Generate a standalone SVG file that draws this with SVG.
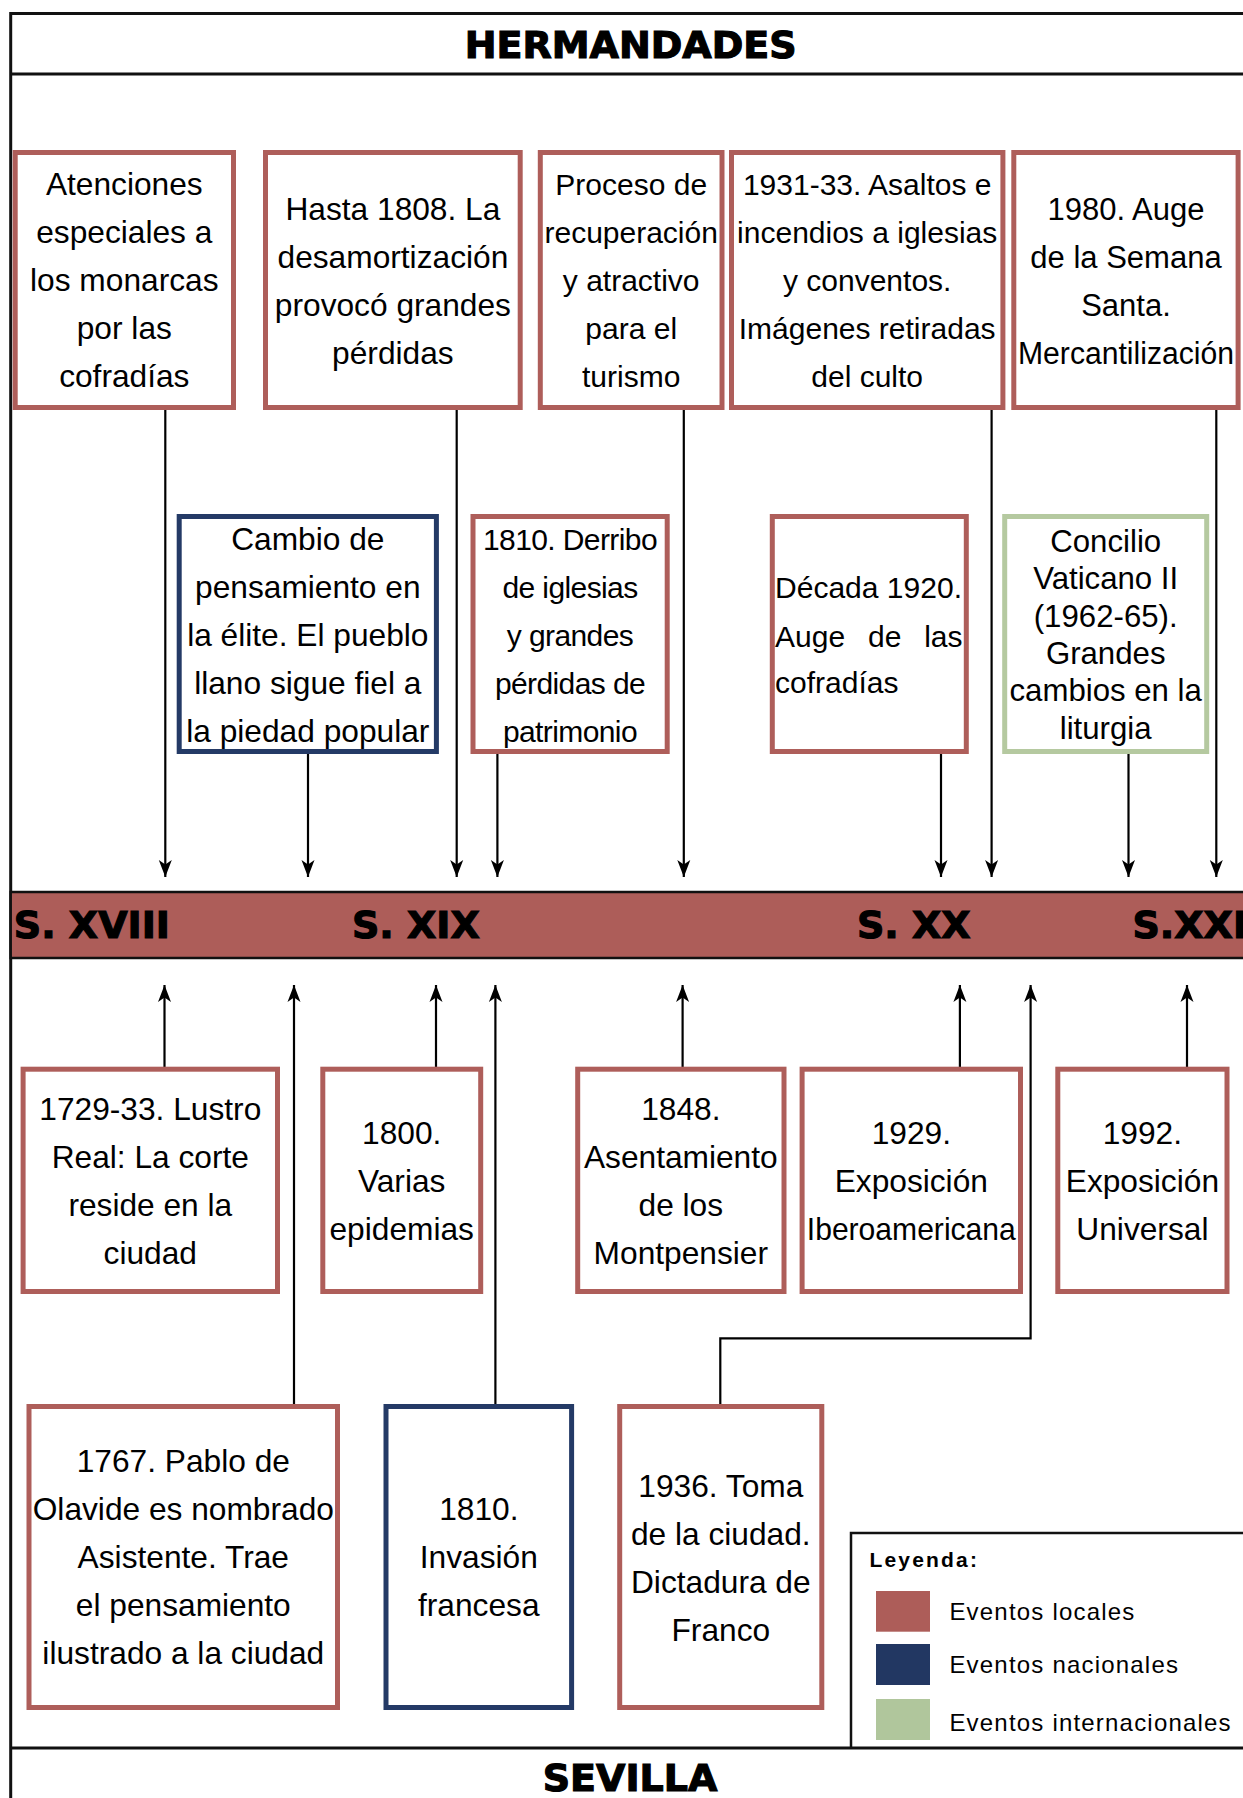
<svg xmlns="http://www.w3.org/2000/svg" width="1243" height="1798" viewBox="0 0 1243 1798">
<style>
.bg{fill:#fff}
.frame{fill:none;stroke:#111;stroke-width:3}
.loc{fill:#fff;stroke:#ae5e5a;stroke-width:5}
.nac{fill:#fff;stroke:#243a66;stroke-width:5}
.int{fill:#fff;stroke:#b5c9a0;stroke-width:5}
.t{font-family:"Liberation Sans",Arial,sans-serif;font-size:31.7px;text-anchor:middle;fill:#000}
.t30{font-size:30px}
.hd{font-family:"DejaVu Sans",Verdana,sans-serif;font-weight:bold;font-size:38px;fill:#000;stroke:#000;stroke-width:1.2px}
.c{fill:none;stroke:#000;stroke-width:2.2}
.lg{font-family:"Liberation Sans",Arial,sans-serif;font-size:24px;letter-spacing:1.2px;fill:#000}
</style>
<defs>
<marker id="arr" viewBox="-18 -8 20 16" refX="0" refY="0" markerWidth="20" markerHeight="16" orient="auto" markerUnits="userSpaceOnUse">
<path d="M0,0 L-17,-6.5 L-12.5,0 L-17,6.5 Z" fill="#000"/>
</marker>
</defs>
<rect class="bg" x="0" y="0" width="1243" height="1798"/>

<g id="frame">
<path class="frame" d="M1250,13.5 H10.7 V1800"/>
<line class="frame" x1="10.7" y1="74" x2="1250" y2="74"/>
<line class="frame" x1="10.7" y1="1748" x2="1250" y2="1748"/>
<text class="hd" x="630.7" y="58" text-anchor="middle">HERMANDADES</text>
<text class="hd" x="630" y="1791" text-anchor="middle">SEVILLA</text>
</g>

<g id="timeline">
<rect x="10.7" y="892" width="1245" height="66" fill="#ad5d59" stroke="#111" stroke-width="2.5"/>
<text class="hd" x="13.8" y="938">S. XVIII</text>
<text class="hd" x="352" y="938">S. XIX</text>
<text class="hd" x="857" y="938">S. XX</text>
<text class="hd" x="1132.5" y="938">S.XXI</text>
</g>

<g id="connectors">
<line class="c" x1="165.3" y1="410" x2="165.3" y2="877" marker-end="url(#arr)"/>
<line class="c" x1="308" y1="754" x2="308" y2="877" marker-end="url(#arr)"/>
<line class="c" x1="456.7" y1="410" x2="456.7" y2="877" marker-end="url(#arr)"/>
<line class="c" x1="497.4" y1="754" x2="497.4" y2="877" marker-end="url(#arr)"/>
<line class="c" x1="683.8" y1="410" x2="683.8" y2="877" marker-end="url(#arr)"/>
<line class="c" x1="941" y1="754" x2="941" y2="877" marker-end="url(#arr)"/>
<line class="c" x1="991.6" y1="410" x2="991.6" y2="877" marker-end="url(#arr)"/>
<line class="c" x1="1128.5" y1="754" x2="1128.5" y2="877" marker-end="url(#arr)"/>
<line class="c" x1="1216.3" y1="410" x2="1216.3" y2="877" marker-end="url(#arr)"/>

<line class="c" x1="164.5" y1="1067" x2="164.5" y2="985" marker-end="url(#arr)"/>
<line class="c" x1="294" y1="1404" x2="294" y2="985" marker-end="url(#arr)"/>
<line class="c" x1="436" y1="1067" x2="436" y2="985" marker-end="url(#arr)"/>
<line class="c" x1="495.4" y1="1404" x2="495.4" y2="985" marker-end="url(#arr)"/>
<line class="c" x1="682.6" y1="1067" x2="682.6" y2="985" marker-end="url(#arr)"/>
<line class="c" x1="959.9" y1="1067" x2="959.9" y2="985" marker-end="url(#arr)"/>
<path class="c" d="M720.3,1404 V1338.3 H1030.6 V985" marker-end="url(#arr)"/>
<line class="c" x1="1187" y1="1067" x2="1187" y2="985" marker-end="url(#arr)"/>
</g>

<g id="n-atenciones">
<rect class="loc" x="15.2" y="152.5" width="218.3" height="255"/>
<text class="t" x="124.3" y="195">Atenciones</text>
<text class="t" x="124.3" y="243">especiales a</text>
<text class="t" x="124.3" y="291">los monarcas</text>
<text class="t" x="124.3" y="339">por las</text>
<text class="t" x="124.3" y="387">cofradías</text>
</g>

<g id="n-hasta1808">
<rect class="loc" x="265.5" y="152.5" width="254.7" height="255"/>
<text class="t" x="392.9" y="220">Hasta 1808. La</text>
<text class="t" x="392.9" y="268">desamortización</text>
<text class="t" x="392.9" y="316">provocó grandes</text>
<text class="t" x="392.9" y="364">pérdidas</text>
</g>

<g id="n-proceso">
<rect class="loc" x="540.3" y="152.5" width="181.7" height="255"/>
<text class="t t30" x="631.2" y="195">Proceso de</text>
<text class="t t30" x="631.2" y="243">recuperación</text>
<text class="t t30" x="631.2" y="291">y atractivo</text>
<text class="t t30" x="631.2" y="339">para el</text>
<text class="t t30" x="631.2" y="387">turismo</text>
</g>

<g id="n-1931">
<rect class="loc" x="731.5" y="152.5" width="271.4" height="255"/>
<text class="t t30" x="867.2" y="195">1931-33. Asaltos e</text>
<text class="t t30" x="867.2" y="243">incendios a iglesias</text>
<text class="t t30" x="867.2" y="291">y conventos.</text>
<text class="t t30" x="867.2" y="339">Imágenes retiradas</text>
<text class="t t30" x="867.2" y="387">del culto</text>
</g>

<g id="n-1980">
<rect class="loc" x="1013.8" y="152.5" width="224.3" height="255"/>
<text class="t" x="1126" y="220" style="font-size:31px">1980. Auge</text>
<text class="t" x="1126" y="268" style="font-size:31px">de la Semana</text>
<text class="t" x="1126" y="316" style="font-size:31px">Santa.</text>
<text class="t" x="1126" y="364" style="font-size:31px" textLength="216" lengthAdjust="spacingAndGlyphs">Mercantilización</text>
</g>

<g id="n-cambio">
<rect class="nac" x="179.2" y="516.5" width="257.2" height="235"/>
<text class="t" x="307.8" y="550">Cambio de</text>
<text class="t" x="307.8" y="598">pensamiento en</text>
<text class="t" x="307.8" y="646">la élite. El pueblo</text>
<text class="t" x="307.8" y="694">llano sigue fiel a</text>
<text class="t" x="307.8" y="742">la piedad popular</text>
</g>

<g id="n-derribo">
<rect class="loc" x="473" y="516.5" width="194.2" height="235"/>
<text class="t t30" x="570" y="550" style="letter-spacing:-0.6px">1810. Derribo</text>
<text class="t t30" x="570" y="598" style="letter-spacing:-0.6px">de iglesias</text>
<text class="t t30" x="570" y="646" style="letter-spacing:-0.6px">y grandes</text>
<text class="t t30" x="570" y="694" style="letter-spacing:-0.6px">pérdidas de</text>
<text class="t t30" x="570" y="742" style="letter-spacing:-0.6px">patrimonio</text>
</g>

<g id="n-decada1920">
<rect class="loc" x="772.3" y="516.5" width="194" height="235"/>
<text class="t t30" x="775" y="598" style="text-anchor:start" textLength="187" lengthAdjust="spacingAndGlyphs">Década 1920.</text>
<text class="t t30" x="775" y="646.5" style="text-anchor:start">Auge</text>
<text class="t t30" x="868" y="646.5" style="text-anchor:start">de</text>
<text class="t t30" x="962.5" y="646.5" style="text-anchor:end">las</text>
<text class="t t30" x="775" y="693" style="text-anchor:start">cofradías</text>
</g>

<g id="n-concilio">
<rect class="int" x="1004.7" y="516.5" width="202" height="235"/>
<text class="t" x="1105.7" y="552" style="font-size:31.2px">Concilio</text>
<text class="t" x="1105.7" y="589.3" style="font-size:31.2px">Vaticano II</text>
<text class="t" x="1105.7" y="626.6" style="font-size:31.2px">(1962-65).</text>
<text class="t" x="1105.7" y="663.9" style="font-size:31.2px">Grandes</text>
<text class="t" x="1105.7" y="701.2" style="font-size:31.2px">cambios en la</text>
<text class="t" x="1105.7" y="738.5" style="font-size:31.2px">liturgia</text>
</g>

<g id="n-lustro">
<rect class="loc" x="23.1" y="1069.2" width="254.4" height="222.3"/>
<text class="t" x="150.3" y="1119.5">1729-33. Lustro</text>
<text class="t" x="150.3" y="1167.5">Real: La corte</text>
<text class="t" x="150.3" y="1215.5">reside en la</text>
<text class="t" x="150.3" y="1263.5">ciudad</text>
</g>

<g id="n-1800">
<rect class="loc" x="322.8" y="1069.2" width="157.9" height="222.3"/>
<text class="t" x="401.7" y="1143.5">1800.</text>
<text class="t" x="401.7" y="1191.5">Varias</text>
<text class="t" x="401.7" y="1239.5">epidemias</text>
</g>

<g id="n-1848">
<rect class="loc" x="577.7" y="1069.2" width="206.3" height="222.3"/>
<text class="t" x="680.8" y="1119.5">1848.</text>
<text class="t" x="680.8" y="1167.5">Asentamiento</text>
<text class="t" x="680.8" y="1215.5">de los</text>
<text class="t" x="680.8" y="1263.5">Montpensier</text>
</g>

<g id="n-1929">
<rect class="loc" x="802.1" y="1069.2" width="218.4" height="222.3"/>
<text class="t" x="911.3" y="1143.5">1929.</text>
<text class="t" x="911.3" y="1191.5">Exposición</text>
<text class="t" x="911.3" y="1239.5" textLength="209" lengthAdjust="spacingAndGlyphs">Iberoamericana</text>
</g>

<g id="n-1992">
<rect class="loc" x="1057.8" y="1069.2" width="169.2" height="222.3"/>
<text class="t" x="1142.4" y="1143.5">1992.</text>
<text class="t" x="1142.4" y="1191.5">Exposición</text>
<text class="t" x="1142.4" y="1239.5">Universal</text>
</g>

<g id="n-1767">
<rect class="loc" x="29" y="1406.5" width="308.5" height="301"/>
<text class="t" x="183.3" y="1471.5">1767. Pablo de</text>
<text class="t" x="183.3" y="1519.5">Olavide es nombrado</text>
<text class="t" x="183.3" y="1567.5">Asistente. Trae</text>
<text class="t" x="183.3" y="1615.5">el pensamiento</text>
<text class="t" x="183.3" y="1663.5">ilustrado a la ciudad</text>
</g>

<g id="n-invasion">
<rect class="nac" x="386" y="1406.5" width="185.6" height="301"/>
<text class="t" x="478.8" y="1520">1810.</text>
<text class="t" x="478.8" y="1568">Invasión</text>
<text class="t" x="478.8" y="1616">francesa</text>
</g>

<g id="n-1936">
<rect class="loc" x="619.7" y="1406.5" width="202.1" height="301"/>
<text class="t" x="720.8" y="1496.5">1936. Toma</text>
<text class="t" x="720.8" y="1544.5">de la ciudad.</text>
<text class="t" x="720.8" y="1592.5">Dictadura de</text>
<text class="t" x="720.8" y="1640.5">Franco</text>
</g>

<g id="legend">
<path d="M1250,1533 H851 V1748" fill="none" stroke="#111" stroke-width="2.5"/>
<text x="869.4" y="1566.7" style="font-family:'Liberation Sans',Arial,sans-serif;font-weight:bold;font-size:21px;letter-spacing:2.2px">Leyenda:</text>
<rect x="876" y="1591" width="54" height="40.7" fill="#ad5d59"/>
<rect x="876" y="1644" width="54" height="41" fill="#223762"/>
<rect x="876" y="1699" width="54" height="41" fill="#b0c69c"/>
<text class="lg" x="949.4" y="1620">Eventos locales</text>
<text class="lg" x="949.4" y="1672.7">Eventos nacionales</text>
<text class="lg" x="949.4" y="1730.7">Eventos internacionales</text>
</g>
</svg>
